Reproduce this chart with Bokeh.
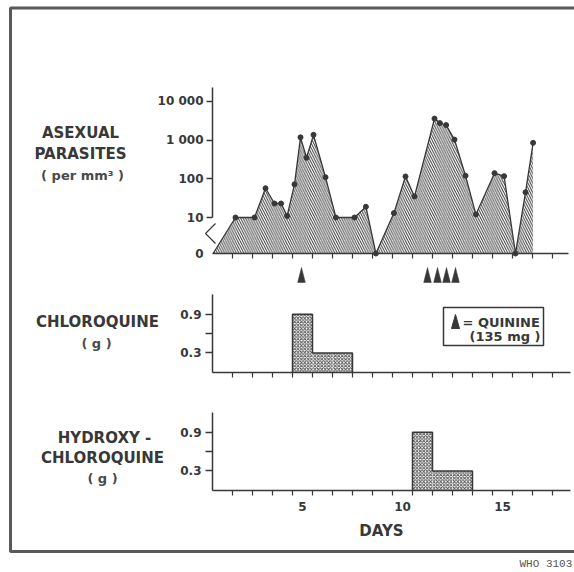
import math
from bokeh.plotting import figure
from bokeh.models import Range1d, LinearAxis, FixedTicker
from bokeh.core.properties import value
from bokeh.embed import file_html
from bokeh.resources import INLINE

# ---------------- data ----------------
par_days = [0.53, 1.65, 2.6, 3.15, 3.6, 3.93, 4.23, 4.6, 4.9, 5.2, 5.55, 6.15, 6.67,
            7.6, 8.17, 8.67, 9.57, 10.15, 10.6, 11.6, 11.87, 12.18, 12.6, 13.15,
            13.67, 14.6, 15.08, 15.65, 16.15, 16.53]
parasites = [0, 10, 10, 57, 23, 23, 11, 72, 1180, 350, 1370, 110, 10,
             10, 19, 0, 13, 115, 35, 3600, 2750, 2450, 1030, 120,
             12, 140, 117, 0, 45, 850]
par_tick_values = [10, 100, 1000, 10000]
par_tick_labels = ["10", "100", "1 000", "10 000"]

quinine_days = [4.95, 11.25, 11.75, 12.2, 12.65]

chloro_days = [5, 6, 7]
chloro_dose = [0.9, 0.3, 0.3]
hydroxy_days = [11, 12, 13]
hydroxy_dose = [0.9, 0.3, 0.3]
dose_ticks = [0.3, 0.6, 0.9]
dose_tick_labels = ["0.3", "", "0.9"]

day_ticks = [1.5 + i for i in range(17)]
day_labels = [5, 10, 15]

INK = "#383838"
FONT = "DejaVu Sans"

# zero parasites is drawn below the axis break
ZP = 0.07
def ppos(v):
    return math.log10(v) if v > 0 else ZP

# ---------------- figure ----------------
W, H = 574, 572
p = figure(width=W, height=H, x_range=Range1d(-10.1, 18.6), y_range=Range1d(H, 0),
           x_axis_type=None, y_axis_type=None, output_backend="svg",
           toolbar_location=None, min_border=0, outline_line_color=None,
           background_fill_color="white", border_fill_color="white")

par_zero_px, par_dec = 253.0, 38.7
chl_zero_px, hyd_zero_px, gpx = 371.8, 489.8, 64.5
p.extra_x_ranges = {"pagex": Range1d(0, W)}
p.extra_y_ranges = {
    "par": Range1d(ZP - (H - par_zero_px) / par_dec, ZP + par_zero_px / par_dec),
    "chl": Range1d(-(H - chl_zero_px) / gpx, chl_zero_px / gpx),
    "hyd": Range1d(-(H - hyd_zero_px) / gpx, hyd_zero_px / gpx),
}

def style_axis(ax, tick_out=6):
    ax.axis_line_color = INK
    ax.axis_line_width = 1.5
    ax.major_tick_line_color = INK
    ax.major_tick_line_width = 1.3
    ax.major_tick_out = tick_out
    ax.major_tick_in = 0
    ax.minor_tick_line_color = None
    ax.major_label_text_font = FONT
    ax.major_label_text_font_style = "bold"
    ax.major_label_text_font_size = "12px"
    ax.major_label_text_color = INK

def day_axis(range_name, loc, end):
    # axis line with unlabelled day-boundary ticks (drawn as minor ticks)
    ax = LinearAxis(y_range_name=range_name, fixed_location=loc, bounds=(0.5, end),
                    ticker=FixedTicker(ticks=[], minor_ticks=day_ticks))
    style_axis(ax, 5)
    ax.minor_tick_line_color = INK
    ax.minor_tick_line_width = 1.2
    ax.minor_tick_out = 5
    ax.minor_tick_in = 0
    p.add_layout(ax, "below")

# ---- top panel: parasites ----
ypos = [ppos(v) for v in parasites]
p.patch(par_days + [par_days[-1]], ypos + [ZP], y_range_name="par",
        fill_color="white", fill_alpha=0.0, line_color=None,
        hatch_pattern="\\", hatch_color="#404040", hatch_scale=4.8, hatch_weight=1.0)
p.line(par_days, ypos, y_range_name="par", line_color=INK, line_width=1.3)
p.scatter(par_days[1:], ypos[1:], y_range_name="par", size=5, color=INK)

ya = LinearAxis(y_range_name="par", fixed_location=0.5, bounds=(1, 4.36),
                ticker=FixedTicker(ticks=[math.log10(v) for v in par_tick_values]),
                major_label_overrides={math.log10(v): l for v, l in zip(par_tick_values, par_tick_labels)})
style_axis(ya)
ya.major_label_standoff = 3
p.add_layout(ya, "left")

ya0 = LinearAxis(y_range_name="par", fixed_location=0.5,
                 ticker=FixedTicker(ticks=[ZP]), major_label_overrides={ZP: "0"})
style_axis(ya0)
ya0.axis_line_color = None
ya0.major_tick_line_color = None
ya0.major_tick_out = 0
ya0.major_label_standoff = 9
p.add_layout(ya0, "left")

day_axis("par", ZP, 18.3)

# axis break
p.line([215, 205, 215], [223, 233, 243], x_range_name="pagex", line_color=INK, line_width=1.2)

# quinine arrows
p.patches([[d - 0.19, d, d + 0.19] for d in quinine_days], [[282, 267, 282]] * len(quinine_days),
          fill_color=INK, line_color=INK, line_width=0.5)

# ---- dose panels ----
def outline(days, doses):
    xs, ys = [days[0] - 0.5], [0]
    for d, v in zip(days, doses):
        xs += [d - 0.5, d + 0.5]
        ys += [v, v]
    xs.append(days[-1] + 0.5)
    ys.append(0)
    return xs, ys

for name, days, doses in (("chl", chloro_days, chloro_dose), ("hyd", hydroxy_days, hydroxy_dose)):
    p.quad(left=[d - 0.5 for d in days], right=[d + 0.5 for d in days],
           bottom=[0] * len(days), top=doses, y_range_name=name,
           fill_color="white", line_color=None,
           hatch_pattern="x", hatch_color="#444444", hatch_scale=3.4, hatch_weight=0.9)
    ox, oy = outline(days, doses)
    p.line(ox, oy, y_range_name=name, line_color=INK, line_width=1.5)

    ay = LinearAxis(y_range_name=name, fixed_location=0.5, bounds=(0, 1.2),
                    ticker=FixedTicker(ticks=dose_ticks),
                    major_label_overrides=dict(zip(dose_ticks, dose_tick_labels)))
    style_axis(ay, 7)
    ay.major_label_standoff = 4
    p.add_layout(ay, "left")

    day_axis(name, 0, 18.4)

lab = LinearAxis(y_range_name="hyd", fixed_location=0, bounds=(0.5, 17.4),
                 ticker=FixedTicker(ticks=day_labels), axis_label="DAYS")
style_axis(lab, 0)
lab.axis_line_color = None
lab.major_tick_line_color = None
lab.major_label_standoff = 12
lab.axis_label_standoff = 7
lab.axis_label_text_font = FONT
lab.axis_label_text_font_style = "bold"
lab.axis_label_text_font_size = "15px"
lab.axis_label_text_color = INK
p.add_layout(lab, "below")

# ---- labels ----
lx = [80, 80, 82, 97, 96, 104, 102, 102]
ly = [132, 153, 175, 321, 343, 437, 457, 478]
lt = ["ASEXUAL", "PARASITES", "( per mm³ )", "CHLOROQUINE", "( g )",
      "HYDROXY -", "CHLOROQUINE", "( g )"]
bold = [0, 1, 3, 5, 6]
p.text([lx[i] for i in bold], [ly[i] for i in bold], text=[lt[i] for i in bold],
       x_range_name="pagex", text_font=value(FONT), text_font_style="bold",
       text_font_size="15px", text_align="center", text_baseline="middle", text_color=INK)
norm = [2, 4, 7]
p.text([lx[i] for i in norm], [ly[i] for i in norm], text=[lt[i] for i in norm],
       x_range_name="pagex", text_font=value(FONT), text_font_style="bold",
       text_font_size="13px", text_align="center", text_baseline="middle", text_color="#4a4a4a")

# legend box
p.quad(left=[443], right=[543], top=[307], bottom=[345], x_range_name="pagex",
       fill_color="white", line_color=INK, line_width=1.5)
p.patch([451, 455, 459], [328, 314, 328], x_range_name="pagex", fill_color=INK, line_color=INK)
p.text([462], [321.5], text=["= QUININE"], x_range_name="pagex", text_font=value(FONT),
       text_font_style="bold", text_font_size="13px", text_baseline="middle", text_color=INK)
p.text([540], [336], text=["(135 mg )"], x_range_name="pagex", text_font=value(FONT),
       text_font_style="bold", text_font_size="13px", text_baseline="middle",
       text_align="right", text_color=INK)

# outer frame
p.line([W + 5, 10, 10, W + 5], [7.5, 7.5, 551, 551], x_range_name="pagex",
       line_color="#5a5a5a", line_width=3)
p.text([519], [563], text=["WHO 3103"], x_range_name="pagex", text_font=value("Liberation Mono"),
       text_font_size="11px", text_baseline="middle", text_color="#555555")

open("out.html", "w").write(file_html(p, INLINE))
